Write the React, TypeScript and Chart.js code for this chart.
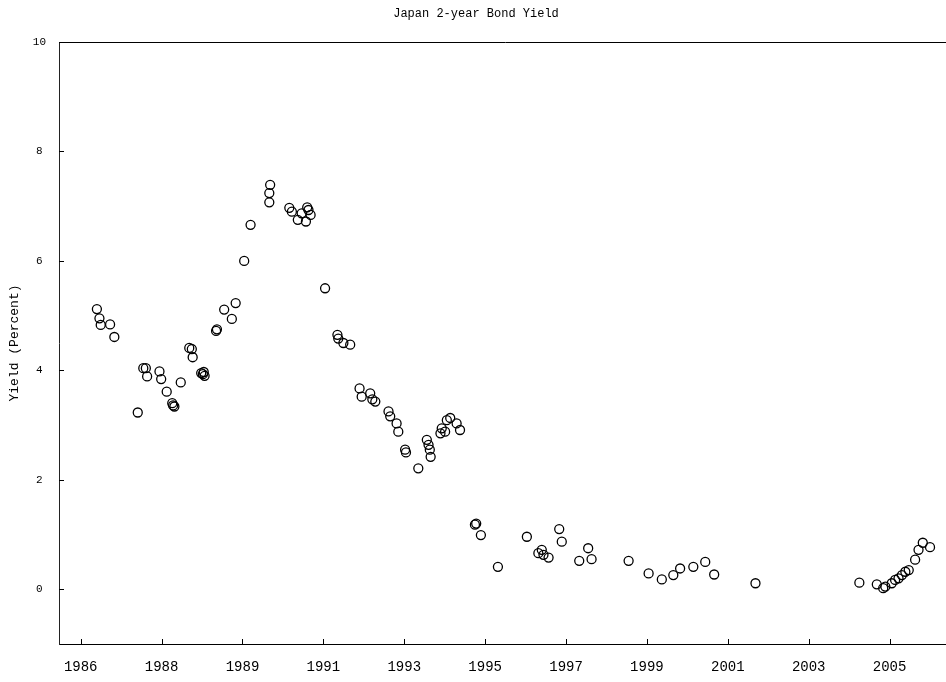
import React, { useEffect, useRef } from 'react';
import { Chart, registerables } from 'chart.js';

Chart.register(...registerables);

// Decimal-year dates of observations
const years = [
  1986.53, 1986.59, 1986.62, 1986.84, 1986.94,
  1987.49, 1987.62, 1987.68, 1987.71,
  1988.0, 1988.04, 1988.17, 1988.3, 1988.32, 1988.35, 1988.5,
  1988.7, 1988.76, 1988.78, 1988.98, 1989.02, 1989.04, 1989.06,
  1989.33, 1989.35, 1989.52, 1989.7, 1989.79, 1989.99,
  1990.14, 1990.58, 1990.58, 1990.6,
  1991.05, 1991.11, 1991.25, 1991.34, 1991.44, 1991.47, 1991.5, 1991.55,
  1991.89, 1992.18, 1992.2, 1992.32, 1992.48,
  1992.7, 1992.75, 1992.95, 1993.0, 1993.07,
  1993.38, 1993.42, 1993.57, 1993.61, 1993.77, 1993.79,
  1994.08, 1994.28, 1994.32, 1994.35, 1994.37,
  1994.6, 1994.63, 1994.71, 1994.75, 1994.83, 1994.98, 1995.06,
  1995.41, 1995.44, 1995.55, 1995.95,
  1996.63, 1996.9, 1996.98, 1997.02, 1997.14, 1997.39, 1997.45,
  1997.86, 1998.07, 1998.15,
  1999.02, 1999.49, 1999.8, 2000.07, 2000.23, 2000.54, 2000.82, 2001.03,
  2002.0, 2004.44, 2004.85, 2005.0, 2005.05,
  2005.2, 2005.28, 2005.36, 2005.44, 2005.52, 2005.6,
  2005.75, 2005.83, 2005.93, 2006.1,
];

// 2-year yield, percent
const yields = [
  5.12, 4.95, 4.83, 4.84, 4.61,
  3.23, 4.04, 4.04, 3.89,
  3.98, 3.84, 3.61, 3.4, 3.36, 3.34, 3.78,
  4.41, 4.39, 4.24, 3.95, 3.93, 3.97, 3.9,
  4.72, 4.75, 5.11, 4.94, 5.23, 6.0,
  6.66, 7.07, 7.24, 7.39,
  6.97, 6.9, 6.75, 6.87, 6.72, 6.98, 6.93, 6.84,
  5.5, 4.65, 4.58, 4.5, 4.47,
  3.67, 3.52, 3.58, 3.47, 3.43,
  3.25, 3.16, 3.03, 2.88, 2.55, 2.5,
  2.21, 2.73, 2.64, 2.55, 2.42,
  2.85, 2.94, 2.88, 3.09, 3.13, 3.03, 2.91,
  1.18, 1.2, 0.99, 0.41,
  0.96, 0.66, 0.72, 0.63, 0.58, 1.1, 0.87,
  0.52, 0.75, 0.55,
  0.52, 0.29, 0.18, 0.26, 0.38, 0.41, 0.5, 0.27,
  0.11, 0.12, 0.09, 0.02, 0.05,
  0.11, 0.17, 0.2, 0.26, 0.32, 0.35,
  0.54, 0.72, 0.85, 0.77,
];

const xTickLabels = ['1986', '1988', '1989', '1991', '1993', '1995', '1997', '1999', '2001', '2003', '2005'];
const yTickValues = [0, 2, 4, 6, 8, 10];

const X_TICK_START = 1986.15;
const X_TICK_STEP = 1.9;
const X_MIN = 1985.64;
const X_MAX = 2006.48;
const MONO = "'Liberation Mono', 'DejaVu Sans Mono', monospace";
const CANVAS_W = 952;

const innerTicks = {
  id: 'innerTicks',
  afterDraw(chart: any) {
    const { ctx, chartArea: a, scales } = chart;
    const x = scales.x;
    const y = scales.y;
    ctx.save();
    ctx.strokeStyle = '#000';
    ctx.lineWidth = 1;
    ctx.beginPath();
    x.ticks.forEach((t: any) => {
      const px = Math.round(x.getPixelForValue(t.value)) + 0.5;
      ctx.moveTo(px, a.bottom);
      ctx.lineTo(px, a.bottom - 5);
    });
    y.ticks.forEach((t: any) => {
      const py = Math.round(y.getPixelForValue(t.value)) + 0.5;
      ctx.moveTo(a.left, py);
      ctx.lineTo(a.left + 5, py);
    });
    ctx.moveTo(a.left, Math.round(a.top) + 0.5);
    ctx.lineTo(chart.width, Math.round(a.top) + 0.5);
    ctx.moveTo(a.right, Math.round(a.bottom) + 0.5);
    ctx.lineTo(chart.width, Math.round(a.bottom) + 0.5);
    ctx.stroke();
    ctx.restore();
  },
};

export default function App() {
  const canvasRef = useRef<HTMLCanvasElement | null>(null);

  useEffect(() => {
    const canvas = canvasRef.current;
    if (!canvas) return;
    const chart = new Chart(canvas, {
      type: 'scatter',
      data: {
        datasets: [
          {
            data: years.map((yr, i) => ({ x: yr, y: yields[i] })),
            pointStyle: 'circle',
            pointRadius: 4.5,
            pointHoverRadius: 4.5,
            borderColor: '#000',
            backgroundColor: 'rgba(0,0,0,0)',
            borderWidth: 1.3,
            showLine: false,
          },
        ],
      },
      options: {
        responsive: false,
        animation: false,
        devicePixelRatio: 1,
        layout: { padding: 0 },
        plugins: {
          legend: { display: false },
          tooltip: { enabled: false },
          title: {
            display: true,
            text: 'Japan 2-year Bond Yield',
            color: '#000',
            font: { family: MONO, size: 12, weight: 'normal' },
            padding: { top: 6.5, bottom: 21.1 },
          },
        },
        scales: {
          x: {
            type: 'linear',
            min: X_MIN,
            max: X_MAX,
            bounds: 'data',
            afterFit: (s: any) => {
              s.height = 38;
            },
            afterBuildTicks: (s: any) => {
              s.ticks = xTickLabels.map((_, i) => ({ value: X_TICK_START + i * X_TICK_STEP }));
            },
            grid: { display: false, drawTicks: false },
            border: { display: true, color: '#000', width: 1 },
            ticks: {
              color: '#000',
              padding: 14.5,
              maxRotation: 0,
              autoSkip: false,
              font: { family: MONO, size: 14 },
              callback: (_v: any, i: number) => xTickLabels[i],
            },
          },
          y: {
            type: 'linear',
            min: -1,
            max: 10,
            afterFit: (s: any) => {
              s.width = 59;
            },
            afterBuildTicks: (s: any) => {
              s.ticks = yTickValues.map((v) => ({ value: v }));
            },
            grid: { display: false, drawTicks: false },
            border: { display: true, color: '#222', width: 1 },
            title: {
              display: true,
              text: 'Yield (Percent)',
              color: '#000',
              font: { family: MONO, size: 13 },
              padding: { top: 7, bottom: 0 },
            },
            ticks: {
              color: '#000',
              padding: 13,
              crossAlign: 'center',
              font: { family: MONO, size: 11 },
              callback: (v: any) => String(v),
            },
          },
        },
      },
      plugins: [innerTicks],
    });
    return () => chart.destroy();
  }, []);

  return (
    <div
      style={{
        position: 'fixed',
        left: 0,
        top: 0,
        width: 946,
        height: 682,
        background: '#fff',
        overflow: 'hidden',
      }}
    >
      <canvas
        ref={canvasRef}
        width={CANVAS_W}
        height={682}
        style={{ display: 'block', width: CANVAS_W, height: 682 }}
      />
    </div>
  );
}
